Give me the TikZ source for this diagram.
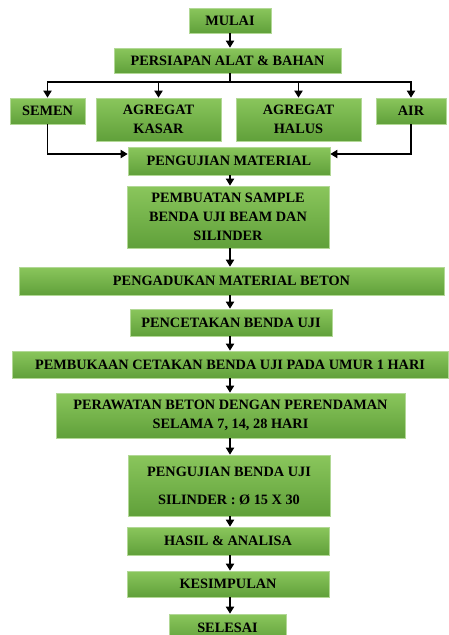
\documentclass[tikz,border=0pt]{standalone}
\usepackage{fontspec}
\setmainfont{Liberation Serif}
\usetikzlibrary{arrows.meta}
\definecolor{boxtop}{RGB}{138,198,92}
\definecolor{boxbot}{RGB}{96,160,58}
\definecolor{boxline}{RGB}{178,216,150}
\tikzset{>={Triangle[width=8pt,length=7pt]}}
\tikzset{
  stepbox/.style={draw=boxline, line width=0.6pt, top color=boxtop,
    bottom color=boxbot, align=center, inner sep=0pt,
    font=\fontsize{14.3}{19}\selectfont\bfseries},
  arr/.style={->, line width=1.8pt}
}
\newcommand*{\flowbox}[5]
  {\node[stepbox, minimum width=#3pt, minimum height=#4pt] (#1) at (#2) {#5}}

\begin{document}
\begin{tikzpicture}[x=1pt,y=-1pt]
\useasboundingbox (0,0) rectangle (448,635);
\flowbox{mulai}{230,20.5}{82}{25}{MULAI};
\flowbox{siap}{227.5,60.5}{227}{25}{PERSIAPAN ALAT \& BAHAN};
\flowbox{semen}{47.5,111}{75}{26}{SEMEN};
\flowbox{kasar}{158.5,119.5}{125}{43}{AGREGAT\\KASAR};
\flowbox{halus}{298.5,119.5}{125}{43}{AGREGAT\\HALUS};
\flowbox{air}{411,111}{70}{26}{AIR};
\flowbox{ujimat}{229,161}{202}{28}{PENGUJIAN MATERIAL};
\flowbox{sample}{228,217}{202}{62}{PEMBUATAN SAMPLE\\BENDA UJI BEAM DAN\\SILINDER};
\flowbox{aduk}{231.5,281}{425}{28}{PENGADUKAN MATERIAL BETON};
\flowbox{cetak}{231,322.5}{202}{27}{PENCETAKAN BENDA UJI};
\flowbox{buka}{230,364.5}{436}{27}{PEMBUKAAN CETAKAN BENDA UJI PADA UMUR 1 HARI};
\flowbox{rawat}{230.5,415.5}{349}{45}{PERAWATAN BETON DENGAN PERENDAMAN\\SELAMA 7, 14, 28 HARI};
\flowbox{ujibenda}{229,485.5}{202}{61}{PENGUJIAN BENDA UJI\\[9pt]SILINDER : Ø 15 X 30};
\flowbox{hasil}{228,541}{202}{28}{HASIL \& ANALISA};
\flowbox{simpul}{228,584}{202}{26}{KESIMPULAN};
\flowbox{selesai}{227.5,628}{117}{28}{SELESAI};
% cabang bahan
\coordinate (split) at (230,82);
\draw[line width=1.8pt] (siap.south -| split) -- (split);
\draw[arr] (split) -| (semen.north);
\draw[arr] (split) -| (kasar.north);
\draw[arr] (split) -| (halus.north);
\draw[arr] (split) -| (air.north);
\draw[arr] (semen.south) |- ([yshift=7pt]ujimat.west);
\draw[arr] (air.south) |- ([yshift=7pt]ujimat.east);
% alur utama
\draw[arr] (mulai.south) -- (mulai.south |- siap.north);
\draw[arr] (ujimat.south -| split) -- (sample.north -| split);
\draw[arr] (sample.south -| split) -- (aduk.north -| split);
\draw[arr] (aduk.south -| split) -- (cetak.north -| split);
\draw[arr] (cetak.south -| split) -- (buka.north -| split);
\draw[arr] (buka.south -| split) -- (rawat.north -| split);
\draw[arr] (rawat.south -| split) -- (ujibenda.north -| split);
\draw[arr] (ujibenda.south -| split) -- (hasil.north -| split);
\draw[arr] (hasil.south -| split) -- (simpul.north -| split);
\draw[arr] (simpul.south -| split) -- (selesai.north -| split);
\end{tikzpicture}
\end{document}
